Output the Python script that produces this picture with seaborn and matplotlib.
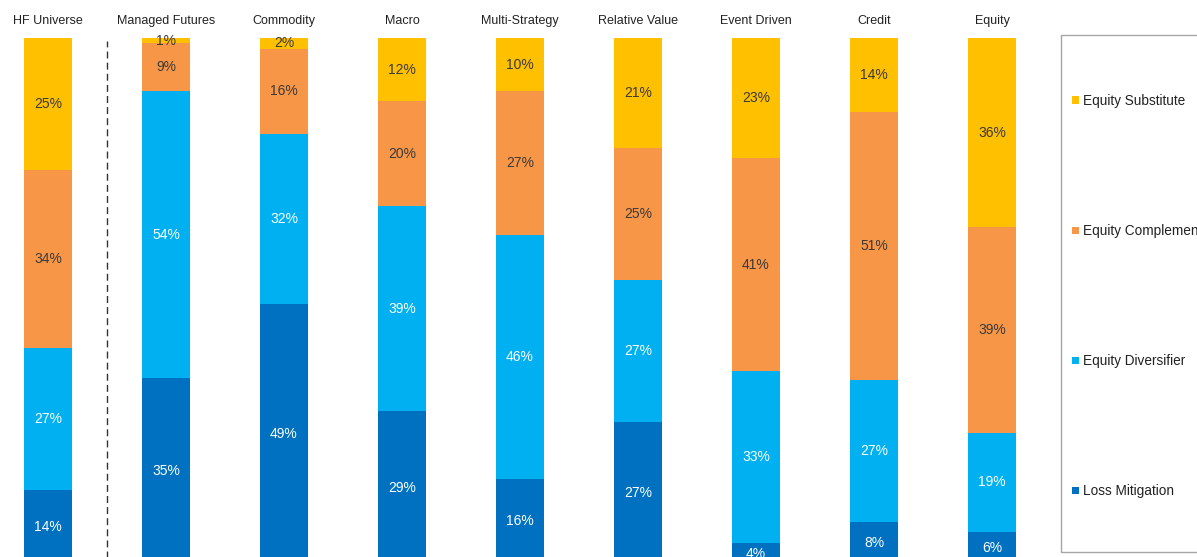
import numpy as np
import pandas as pd
import matplotlib
matplotlib.use("Agg")
import matplotlib.pyplot as plt
from matplotlib.patches import Patch, Rectangle
import seaborn as sns

categories = ["HF Universe", "Managed Futures", "Commodity", "Macro", "Multi-Strategy",
              "Relative Value", "Event Driven", "Credit", "Equity"]
loss_mitigation = [14, 35, 49, 29, 16, 27, 4, 8, 6]
equity_diversifier = [27, 54, 32, 39, 46, 27, 33, 27, 19]
equity_complement = [34, 9, 16, 20, 27, 25, 41, 51, 39]
equity_substitute = [25, 1, 2, 12, 10, 21, 23, 14, 36]

series_names = ["Loss Mitigation", "Equity Diversifier", "Equity Complement", "Equity Substitute"]
series_values = [loss_mitigation, equity_diversifier, equity_complement, equity_substitute]
series_colors = ["#0070C0", "#00B0F0", "#F79646", "#FFC000"]
label_colors = ["white", "white", "#3a3a3a", "#3a3a3a"]

sns.set_theme(style="white")
plt.rcParams["font.family"] = ["Liberation Sans", "DejaVu Sans"]

W, H = 1197, 557
fig = plt.figure(figsize=(W / 100, H / 100), dpi=100)

# axes geometry in pixels: bar centres every 118 px, 100% spans 526 px
x0_px, unit_px = 48, 118
left_px = x0_px - 0.4 * unit_px
top_px, span_px = 38, 526
ax = fig.add_axes([left_px / W, (H - top_px - span_px) / H, 9 * unit_px / W, span_px / H])

# 100% stacked shares
vals = np.array(series_values, dtype=float)
shares = vals / vals.sum(axis=0) * 100
cum = np.cumsum(shares, axis=0)

# draw cumulative totals from the top layer down so each layer overlaps the next
for k in range(len(series_names) - 1, -1, -1):
    df = pd.DataFrame({"category": categories, "value": cum[k]})
    sns.barplot(data=df, x="category", y="value", order=categories, color=series_colors[k],
                saturation=1, width=0.4, ax=ax, linewidth=0)

# segment labels
for k in range(len(series_names)):
    for i in range(len(categories)):
        bottom = cum[k][i] - shares[k][i]
        mid = bottom + shares[k][i] / 2
        ax.text(i, mid, f"{series_values[k][i]}%", ha="center", va="center",
                fontsize=10, color=label_colors[k])

# separator between the universe and the strategies
ax.axvline(0.5, ymin=0, ymax=0.995, color="#333333", lw=1, ls=(0, (5, 3)))

ax.set_xlim(-0.4, 8.6)
ax.set_ylim(0, 100)
ax.set_xlabel("")
ax.set_ylabel("")
ax.set_xticks([])
ax.set_yticks([])
for s in ax.spines.values():
    s.set_visible(False)

# category titles above the bars
for i, c in enumerate(categories):
    ax.annotate(c, xy=(i, 100), xytext=(0, 12.2), textcoords="offset points",
                ha="center", va="center", fontsize=9, color="#222222", annotation_clip=False)

# legend box
fig.patches.append(Rectangle((1061 / W, (H - 552) / H), 200 / W, 517 / H,
                             transform=fig.transFigure, fill=False,
                             edgecolor="#a6a6a6", lw=1))
handles = [Patch(facecolor=series_colors[k], edgecolor="none") for k in range(3, -1, -1)]
labels = [series_names[k] for k in range(3, -1, -1)]
fig.legend(handles, labels, loc="upper left", bbox_to_anchor=(1072 / W, (H - 94) / H),
           frameon=False, fontsize=9.8, labelspacing=8.53, handlelength=0.5,
           handleheight=0.45, handletextpad=0.3, borderpad=0, borderaxespad=0,
           labelcolor="#222222")

fig.savefig("out.png", dpi=100)
